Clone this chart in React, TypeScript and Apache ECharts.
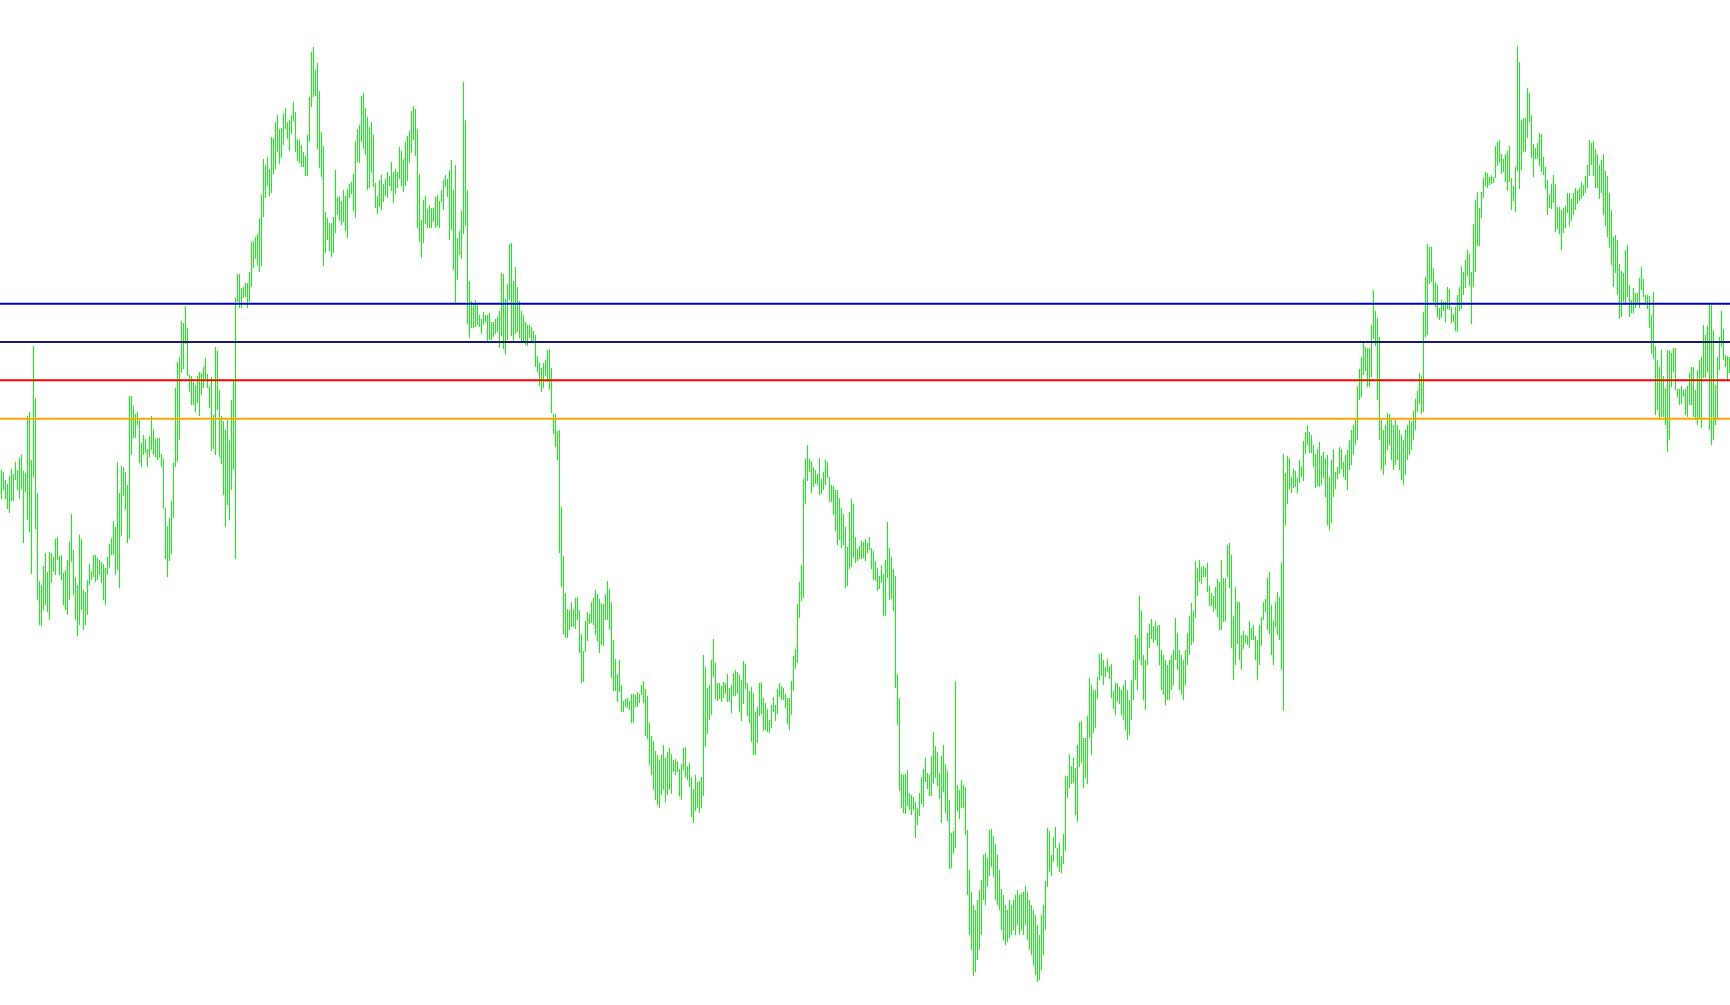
import React, { useEffect, useRef } from "react";
import * as echarts from "echarts";

// Bar extents, measured in chart units (0 = top of the plot, growing downward)
const barTop = [
470,472,480,484,476,469,474,462,470,458,
455,471,473,416,412,460,346,398,493,581,
585,566,553,572,552,553,557,539,537,556,
555,573,570,560,542,514,550,577,585,535,
539,590,592,580,564,571,555,555,558,560,
562,564,568,557,544,538,521,527,462,493,
466,467,472,485,396,396,406,414,412,420,
443,435,439,449,436,416,429,439,438,438,
454,459,508,526,518,501,463,388,362,357,
321,323,306,328,375,376,382,385,376,372,
373,367,358,374,386,377,415,347,351,390,
416,421,430,420,440,400,380,298,274,274,
288,287,283,283,272,242,241,237,234,219,
195,159,165,157,169,137,138,122,115,129,
128,114,108,122,120,115,102,112,139,140,
145,152,156,135,97,52,47,70,63,91,
132,146,212,218,223,223,217,170,197,196,
201,190,196,189,184,182,174,141,129,125,
96,93,108,117,127,122,135,183,196,180,
175,184,179,172,176,162,172,169,172,147,
151,159,142,136,131,111,106,109,129,174,
220,200,196,209,205,208,208,197,195,201,
190,180,175,179,170,160,190,165,238,231,
211,82,120,190,281,301,304,300,305,315,
319,312,315,315,313,322,322,319,317,311,
273,274,299,284,244,243,281,267,287,301,
311,315,322,325,325,327,331,335,356,362,
368,363,360,350,349,368,414,414,431,430,
507,556,593,609,610,602,609,598,597,610,
634,651,621,612,614,602,598,590,594,599,
603,604,594,581,589,602,640,659,674,660,
685,701,699,698,701,694,694,695,692,694,
685,681,689,696,723,736,741,751,755,760,
755,745,758,752,748,754,760,759,761,769,
764,748,747,766,763,777,789,775,782,781,
777,655,667,688,685,660,639,663,683,683,
686,682,683,674,688,685,673,670,672,675,
680,661,664,683,691,687,693,712,707,683,
682,698,703,709,720,705,697,705,689,683,
686,688,694,698,698,681,656,649,604,582,
565,479,459,445,459,461,467,470,474,458,
479,472,460,462,477,485,486,490,490,498,
508,514,527,547,512,499,504,537,549,546,
541,542,539,543,537,548,551,561,568,576,
565,574,560,522,548,557,569,576,674,698,
774,775,774,770,793,795,797,802,808,793,
777,769,758,773,775,756,732,746,752,773,
756,745,764,771,800,833,831,681,785,790,
780,785,787,830,870,892,905,910,900,890,
880,855,853,858,830,829,836,844,855,870,
889,895,905,910,900,905,900,895,890,895,
893,892,886,892,900,905,910,915,925,935,
915,905,881,828,831,855,837,827,848,843,
856,834,776,776,754,766,758,768,745,722,
721,738,738,716,678,685,690,690,677,654,
653,660,667,659,666,664,691,683,683,687,
690,685,680,690,700,680,660,635,638,596,
611,655,660,633,624,619,626,621,626,625,
650,655,660,665,660,655,650,618,633,650,
655,660,650,633,616,603,611,561,568,560,
567,566,568,563,586,593,596,587,579,582,
560,578,578,545,543,555,616,587,602,602,
635,631,635,636,621,628,625,636,640,625,
617,602,599,578,572,605,621,602,592,597,
563,454,473,456,458,477,469,471,478,460,
466,441,432,425,432,435,445,454,449,442,
456,452,458,455,477,460,449,472,467,447,
449,462,455,450,440,430,425,420,387,369,
357,342,347,348,348,325,290,311,318,337,
420,430,425,413,414,420,425,420,425,430,
435,440,430,425,420,422,411,399,391,373,
376,312,277,244,247,247,268,282,285,308,
300,302,302,287,289,307,314,307,295,287,
266,272,260,250,254,272,224,200,192,208,
192,178,172,173,177,175,177,146,142,140,
154,159,154,151,146,178,186,167,46,62,
120,118,118,88,93,115,144,148,143,133,
134,157,167,180,195,184,175,184,207,207,
210,208,206,193,193,199,193,188,190,188,
182,185,176,165,140,143,141,149,154,165,
160,154,171,176,193,210,237,235,240,264,
271,273,250,245,285,300,288,293,293,278,
267,279,295,295,296,315,292,346,360,367,
350,376,388,350,350,353,348,348,389,389,
386,390,389,386,373,367,367,390,370,360,
357,325,335,326,304,305,330,385,357,337,
311,329,355,356,357
];

const barBottom = [
499,490,499,509,513,501,501,480,490,499,
489,543,492,520,532,574,477,529,600,625,
626,610,605,612,620,583,572,575,560,575,
580,605,610,615,600,562,595,620,636,625,
610,630,625,615,585,580,577,582,580,575,
583,600,605,575,568,555,555,575,570,588,
536,496,510,543,539,455,438,438,425,463,
467,455,453,467,457,450,455,457,460,458,
467,509,559,577,561,554,518,467,462,440,
373,369,344,376,392,405,405,412,403,416,
395,388,381,388,408,451,449,455,410,457,
464,495,527,505,520,490,470,559,302,308,
308,298,297,308,302,287,268,259,265,272,
266,217,198,186,196,193,174,169,152,164,
158,145,129,139,151,134,121,152,161,163,
167,167,176,176,142,107,97,96,149,168,
177,266,253,240,251,257,253,233,215,221,
225,222,231,238,198,194,211,218,162,163,
142,149,155,190,188,173,187,208,214,207,
210,202,196,198,186,191,203,194,188,179,
186,192,186,181,163,153,140,156,228,242,
258,243,224,228,228,228,222,228,226,228,
202,210,187,197,240,230,270,303,280,255,
259,234,226,324,338,328,328,327,325,327,
334,325,322,341,340,340,337,334,332,348,
336,349,355,340,300,336,341,334,332,338,
342,343,345,346,338,341,342,367,372,386,
392,388,376,382,390,413,434,447,460,553,
587,634,638,638,630,627,627,629,620,653,
683,682,652,641,624,623,625,635,641,653,
645,646,620,620,630,678,691,691,702,692,
712,712,707,708,710,723,723,707,707,703,
695,703,736,739,765,775,790,800,805,808,
795,790,802,795,790,794,772,775,772,796,
800,770,777,780,787,817,823,811,808,813,
808,796,747,734,720,715,677,699,701,699,
702,698,694,702,702,713,696,696,694,712,
721,704,689,716,723,742,755,755,743,716,
714,731,730,732,733,728,712,721,714,697,
700,700,708,724,730,715,691,669,663,618,
601,598,504,481,472,493,487,484,485,495,
494,490,485,478,502,502,515,531,545,540,
548,545,588,586,569,567,558,563,561,559,
559,558,561,553,550,569,580,581,591,589,
583,616,616,578,600,599,611,688,725,791,
808,813,814,806,810,815,810,838,825,816,
804,807,782,789,796,796,784,778,786,799,
823,792,813,821,869,868,854,848,811,819,
808,808,835,895,935,950,976,972,960,950,
935,900,905,887,876,867,877,900,905,910,
930,940,945,942,938,935,930,935,925,935,
930,935,925,940,950,955,965,975,982,980,
970,955,930,887,872,876,862,848,867,872,
873,864,851,798,788,784,783,815,822,767,
763,788,778,784,738,755,733,728,699,680,
676,685,677,672,679,698,709,715,702,704,
715,720,730,740,735,720,700,680,690,660,
665,700,710,665,648,639,643,640,646,665,
690,695,705,700,700,690,685,660,670,690,
695,700,685,665,655,645,642,618,596,582,
584,577,577,592,606,606,612,609,617,630,
630,622,622,577,588,648,680,665,644,660,
670,649,643,645,648,640,640,660,680,665,
646,620,612,630,634,655,665,627,635,640,
670,711,525,504,489,493,488,487,493,483,
477,481,454,445,453,453,467,488,486,487,
485,478,497,525,530,523,497,489,479,474,
469,477,480,490,470,465,455,445,440,400,
397,375,371,387,387,377,339,346,400,440,
470,475,465,450,445,460,470,465,460,470,
480,485,475,460,455,450,440,430,412,404,
414,412,337,335,284,282,302,307,317,320,
318,311,322,309,310,323,322,331,332,311,
309,295,288,276,286,324,287,272,246,246,
218,198,186,188,185,184,183,178,166,163,
174,172,182,191,182,210,201,212,171,189,
170,152,152,138,122,158,177,159,159,166,
172,175,189,215,208,209,203,232,229,234,
250,233,228,213,226,221,215,210,204,201,
199,196,193,188,176,165,176,188,188,199,
193,215,226,237,248,265,287,273,295,319,
317,302,303,297,317,313,313,308,303,308,
290,297,303,309,328,354,359,415,410,420,
417,417,425,452,440,387,372,390,397,405,
404,397,415,417,405,405,417,420,425,418,
428,378,378,372,430,445,440,425,420,370,
347,360,367,380,373
];

// Horizontal levels (same chart units)
const levelValues = [303.7, 341.9, 380.3, 418.7];
const levelColors = ["#0000CD", "#191970", "#FF0000", "#FFA500"];
const barColor = "#00ff00";

export default function App() {
  const ref = useRef<HTMLDivElement>(null);

  useEffect(() => {
    if (!ref.current) return;
    const chart = echarts.init(ref.current, null, { renderer: "svg" });
    const n = barTop.length;
    const data = barTop.map((t, i) => [i, t, barBottom[i]]);
    const xMin = -0.75;
    const xMax = n - 0.75;

    const levelSeries = levelValues.map((v, k) => ({
      type: "line",
      data: [
        [xMin, v],
        [xMax, v],
      ],
      symbol: "none",
      silent: true,
      z: 5,
      lineStyle: { color: levelColors[k], width: 2 },
    }));

    chart.setOption({
      animation: false,
      backgroundColor: "#ffffff",
      grid: { left: 0, right: 0, top: 0, bottom: 0, containLabel: false },
      xAxis: { type: "value", min: xMin, max: xMax, show: false },
      yAxis: { type: "value", min: 0, max: 1005, inverse: true, show: false },
      series: [
        {
          type: "custom",
          silent: true,
          z: 2,
          encode: { x: 0, y: [1, 2] },
          data,
          renderItem: (params: any, api: any) => {
            const x = api.value(0);
            const p1 = api.coord([x, api.value(1)]);
            const p2 = api.coord([x, api.value(2)]);
            return {
              type: "rect",
              shape: {
                x: Math.round(p1[0] - 0.5),
                y: Math.round(p1[1]),
                width: 1,
                height: Math.max(1, Math.round(p2[1]) - Math.round(p1[1])),
              },
              style: { fill: barColor, stroke: null, lineWidth: 0 },
            };
          },
        },
        ...levelSeries,
      ],
    });

    return () => chart.dispose();
  }, []);

  return (
    <div
      ref={ref}
      style={{ position: "fixed", left: 0, top: 0, width: 1730, height: 1005, background: "#fff" }}
    />
  );
}
